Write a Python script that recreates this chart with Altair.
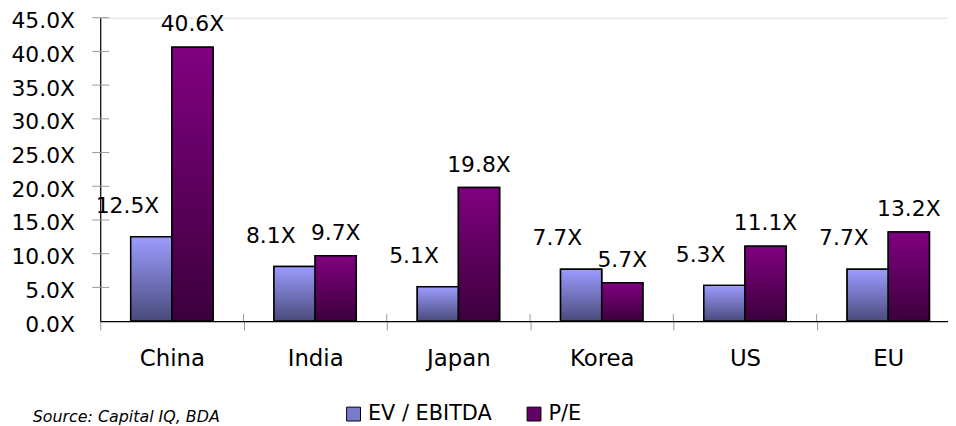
import altair as alt
import pandas as pd

countries = ["China", "India", "Japan", "Korea", "US", "EU"]
ev_ebitda = [12.5, 8.1, 5.1, 7.7, 5.3, 7.7]
pe = [40.6, 9.7, 19.8, 5.7, 11.1, 13.2]
series_names = ["EV / EBITDA", "P/E"]
y_ticks = [0, 5, 10, 15, 20, 25, 30, 35, 40, 45]
source_text = "Source: Capital IQ, BDA"

rows = []
for c, a, b in zip(countries, ev_ebitda, pe):
    rows.append({"country": c, "series": series_names[0], "value": a})
    rows.append({"country": c, "series": series_names[1], "value": b})
df = pd.DataFrame(rows)
tick_df = pd.DataFrame({"value": y_ticks[1:]})
bound_df = pd.DataFrame({"country": countries[1:]})

FONT = "DejaVu Sans"
PLOT_W = 855
PLOT_H = 306
BAND_RANGE = [0, 867]

ev_grad = alt.Gradient(
    gradient="linear",
    stops=[alt.GradientStop(color="#9c9cff", offset=0),
           alt.GradientStop(color="#4a4a7c", offset=1)],
    x1=0, x2=0, y1=0, y2=1,
)
pe_grad = alt.Gradient(
    gradient="linear",
    stops=[alt.GradientStop(color="#800080", offset=0),
           alt.GradientStop(color="#3c003c", offset=1)],
    x1=0, x2=0, y1=0, y2=1,
)

x_enc = alt.X(
    "country:N",
    sort=countries,
    scale=alt.Scale(domain=countries, range=BAND_RANGE, paddingInner=0, paddingOuter=0),
    axis=alt.Axis(title=None),
)
xoff_enc = alt.XOffset(
    "series:N",
    sort=series_names,
    scale=alt.Scale(domain=series_names, paddingInner=0, paddingOuter=0.741),
)
y_enc = alt.Y(
    "value:Q",
    scale=alt.Scale(domain=[0, 45], nice=False, zero=True),
    axis=alt.Axis(title=None, values=y_ticks, tickCount=10),
)

x_plain = alt.X("country:N", sort=countries)
xoff_plain = alt.XOffset("series:N", sort=series_names)
y_plain = alt.Y("value:Q")

base = alt.Chart(df)

bars_legend = base.mark_bar(stroke="#000000", strokeWidth=1.5).encode(
    x=x_enc,
    xOffset=xoff_enc,
    y=y_enc,
    color=alt.Color(
        "series:N",
        sort=series_names,
        scale=alt.Scale(domain=series_names, range=["#7a7acc", "#640064"]),
        legend=alt.Legend(
            title=None, orient="none", legendX=245, legendY=389, direction="horizontal",
            symbolType="square", symbolSize=196, symbolStrokeColor="#000000",
            symbolStrokeWidth=1, labelFontSize=21, labelFont=FONT, labelColor="#000000",
            columnPadding=32, labelOffset=4,
        ),
    ),
)

bars = base.mark_bar(stroke="#000000", strokeWidth=1.5).encode(
    x=x_plain,
    xOffset=xoff_plain,
    y=y_plain,
    fill=alt.condition(alt.datum.series == series_names[0], alt.value(ev_grad), alt.value(pe_grad)),
)

labels_ev = base.transform_filter(alt.datum.series == series_names[0]).transform_calculate(
    label="format(datum.value, '.1f') + 'X'"
).mark_text(baseline="middle", align="center", dx=-24, dy=-31, fontSize=22, font=FONT, color="#000000").encode(
    x=x_plain,
    xOffset=xoff_plain,
    y=y_plain,
    text="label:N",
)

labels_pe = base.transform_filter(alt.datum.series == series_names[1]).transform_calculate(
    label="format(datum.value, '.1f') + 'X'"
).mark_text(baseline="middle", align="center", dy=-23, fontSize=22, font=FONT, color="#000000").encode(
    x=x_plain,
    xOffset=xoff_plain,
    y=y_plain,
    text="label:N",
)

y_tick_rules = alt.Chart(tick_df).mark_rule(color="#999999", strokeWidth=1).encode(
    y=y_plain,
    x=alt.value(-8),
    x2=alt.value(9),
)

x_tick_rules = alt.Chart(bound_df).mark_rule(color="#999999", strokeWidth=1).encode(
    x=alt.X("country:N", sort=countries, bandPosition=0),
    y=alt.value(PLOT_H - 7),
    y2=alt.value(PLOT_H),
)

chart = alt.layer(
    bars_legend, bars, labels_ev, labels_pe, y_tick_rules, x_tick_rules
).properties(
    width=PLOT_W,
    height=PLOT_H,
    autosize=alt.AutoSizeParams(type="none"),
    padding={"left": 93, "top": 8, "right": 0, "bottom": 104},
    title=alt.TitleParams(
        source_text, orient="bottom", anchor="start", frame="bounds", fontSize=16,
        fontStyle="italic", fontWeight="normal", font=FONT, color="#000000",
        offset=-15, dx=22,
    ),
).configure_view(
    stroke=None
).configure(
    background="white"
).configure_axis(
    grid=False, domainColor="#000000", domainWidth=1.2, labelColor="#000000",
    labelFont=FONT, zindex=1,
).configure_axisY(
    labelExpr="format(datum.value, '.1f') + 'X'", ticks=False, labelPadding=26,
    labelFontSize=22, labelOverlap=False, labelFlush=False, labelOffset=3,
).configure_axisX(
    labelAngle=0, tickBand="extent", tickSize=9, tickColor="#999999", tickWidth=1,
    labelFontSize=23, labelPadding=18,
)

chart.save("out.html", embed_options={"renderer": "svg", "actions": False})
